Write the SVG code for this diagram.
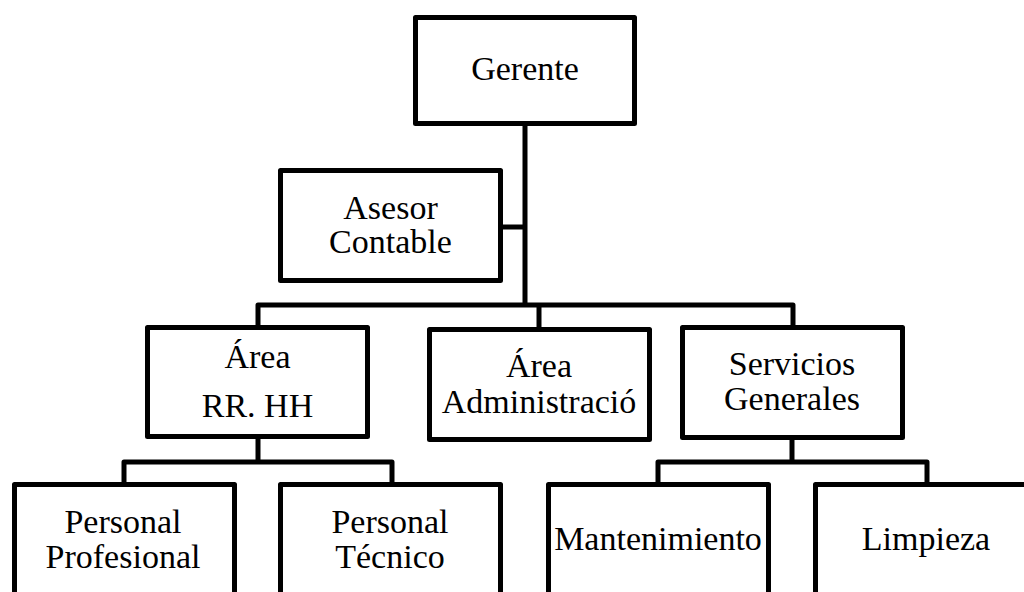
<svg xmlns="http://www.w3.org/2000/svg" width="1024" height="592" viewBox="0 0 1024 592">
<style>
.box{fill:#fff;stroke:#000;stroke-width:5;stroke-linejoin:round}
.ln{fill:none;stroke:#000;stroke-width:5;stroke-linejoin:round}
text{font-family:"Liberation Serif","Times New Roman",serif;font-size:34px;fill:#000;text-anchor:middle}
</style>
<rect width="1024" height="592" fill="#fff"/>
<g id="connectors">
<path class="ln" d="M525,124 V305"/>
<path class="ln" d="M501,227 H525"/>
<path class="ln" d="M258,327 V305 H793 V327"/>
<path class="ln" d="M539,305 V329"/>
<path class="ln" d="M258,437 V462"/>
<path class="ln" d="M124,484 V462 H392 V484"/>
<path class="ln" d="M792,438 V462"/>
<path class="ln" d="M658,484 V462 H927 V484"/>
</g>
<g id="gerente"><rect class="box" x="415.5" y="17.5" width="219" height="106"/><text x="525" y="80">Gerente</text></g>
<g id="asesor"><rect class="box" x="280.5" y="170.5" width="220" height="110"/><text x="390.5" y="219">Asesor</text><text x="390.5" y="253">Contable</text></g>
<g id="rrhh"><rect class="box" x="147.5" y="327.5" width="220" height="109"/><text x="257.5" y="368">Área</text><text x="257.5" y="417">RR. HH</text></g>
<g id="admin"><rect class="box" x="429.5" y="329.5" width="220" height="110"/><text x="539" y="377">Área</text><text x="539" y="413">Administració</text></g>
<g id="servicios"><rect class="box" x="682.5" y="327.5" width="220" height="110"/><text x="792" y="375">Servicios</text><text x="792" y="410">Generales</text></g>
<g id="profesional"><rect class="box" x="14.5" y="484.5" width="220" height="130"/><text x="123" y="533">Personal</text><text x="123" y="568">Profesional</text></g>
<g id="tecnico"><rect class="box" x="280.5" y="484.5" width="220" height="130"/><text x="390" y="533">Personal</text><text x="390" y="568">Técnico</text></g>
<g id="mantenimiento"><rect class="box" x="548.5" y="484.5" width="220" height="130"/><text x="658" y="550">Mantenimiento</text></g>
<g id="limpieza"><rect class="box" x="815.5" y="484.5" width="220" height="130"/><text x="926" y="550">Limpieza</text></g>
</svg>
